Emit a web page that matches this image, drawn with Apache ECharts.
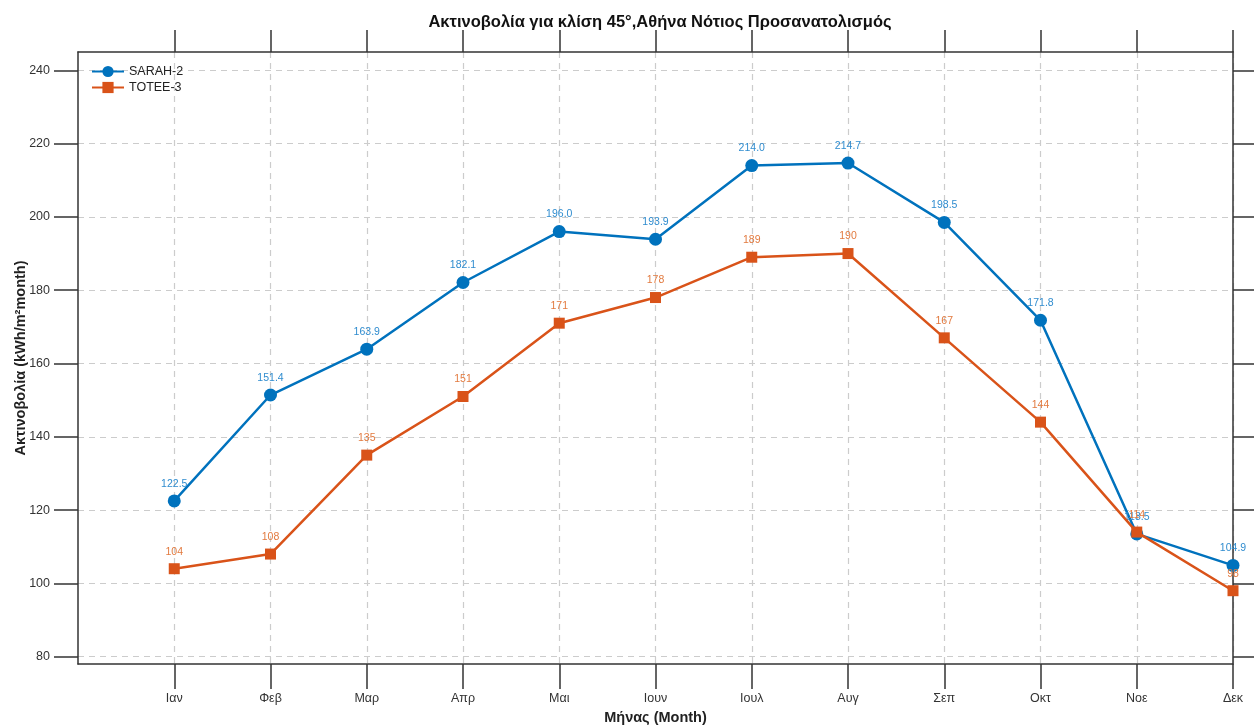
<!DOCTYPE html>
<html><head><meta charset="utf-8">
<script src="https://cdn.jsdelivr.net/npm/echarts@6/dist/echarts.min.js"></script>
<style>html,body{margin:0;padding:0;background:#fff}#c{width:1254px;height:725px}</style>
</head><body><div id="c"></div>
<script>
const months = ['Ιαν','Φεβ','Μαρ','Απρ','Μαι','Ιουν','Ιουλ','Αυγ','Σεπ','Οκτ','Νοε','Δεκ'];
const sarah2 = [122.5, 151.4, 163.9, 182.1, 196.0, 193.9, 214.0, 214.7, 198.5, 171.8, 113.5, 104.9];
const totee3 = [104, 108, 135, 151, 171, 178, 189, 190, 167, 144, 114, 98];
const yTicks = [80, 100, 120, 140, 160, 180, 200, 220, 240];
const xTicks = months.map((m, i) => i + 1);

const FONT = 'Liberation Sans, Arial, sans-serif';
const BLUE = '#0072BD', ORANGE = '#D95319';
const axisLine = {show: true, onZero: false, lineStyle: {color: '#333', width: 1.5}};
const tick = len => ({show: true, inside: false, length: len, lineStyle: {color: '#333', width: 1.5}});
const grid = {show: true, lineStyle: {color: '#cccccc', type: [6, 5], width: 1.2}};

const chart = echarts.init(document.getElementById('c'), null, {renderer: 'canvas'});
chart.setOption({
  animation: false,
  backgroundColor: '#fff',
  textStyle: {fontFamily: FONT},
  title: {
    text: 'Ακτινοβολία για κλίση 45°,Αθήνα Νότιος Προσανατολισμός',
    left: 655, top: 9, textAlign: 'center',
    textStyle: {fontFamily: FONT, fontSize: 16.5, fontWeight: 'bold', color: '#111'}
  },
  legend: {
    left: 86, top: 60, orient: 'vertical', itemWidth: 32, itemHeight: 14, itemGap: 3,
    textStyle: {fontFamily: FONT, fontSize: 12.5, color: '#222'},
    data: ['SARAH-2', 'TOTEE-3']
  },
  grid: {left: 78, right: 21, top: 52, bottom: 61, containLabel: false, outerBoundsMode: 'none'},
  xAxis: [{
    type: 'value', min: 0, max: 12, position: 'bottom',
    name: 'Μήνας (Month)', nameLocation: 'middle', nameGap: 46, nameMoveOverlap: false,
    nameTextStyle: {fontFamily: FONT, fontSize: 14.5, fontWeight: 'bold', color: '#222'},
    axisLine: axisLine,
    axisTick: Object.assign(tick(25), {customValues: xTicks}),
    axisLabel: {customValues: xTicks, formatter: v => months[v - 1] || '', margin: 28, fontFamily: FONT, fontSize: 12.5, color: '#333'},
    splitLine: grid
  }, {
    type: 'value', min: 0, max: 12, position: 'top',
    axisLine: axisLine,
    axisTick: Object.assign(tick(22), {customValues: xTicks}),
    axisLabel: {show: false},
    splitLine: {show: false}
  }],
  yAxis: [{
    type: 'value', min: 78, max: 245, position: 'left',
    name: 'Ακτινοβολία (kWh/m²month)', nameLocation: 'middle', nameGap: 50, nameMoveOverlap: false,
    nameTextStyle: {fontFamily: FONT, fontSize: 14.5, fontWeight: 'bold', color: '#222'},
    axisLine: axisLine,
    axisTick: Object.assign(tick(24), {customValues: yTicks}),
    axisLabel: {customValues: yTicks, margin: 28, fontFamily: FONT, fontSize: 12.5, color: '#333'},
    splitLine: grid
  }, {
    type: 'value', min: 78, max: 245, position: 'right',
    axisLine: axisLine,
    axisTick: Object.assign(tick(24), {customValues: yTicks}),
    axisLabel: {show: false},
    splitLine: {show: false}
  }],
  series: [{
    name: 'SARAH-2', type: 'line',
    data: sarah2.map((v, i) => [i + 1, v]),
    symbol: 'circle', symbolSize: 13,
    lineStyle: {color: BLUE, width: 2.5},
    itemStyle: {color: BLUE},
    label: {show: true, position: 'top', distance: 5, formatter: p => p.value[1].toFixed(1),
      fontFamily: FONT, fontSize: 10.5, color: '#2f8ccf'},
    z: 2
  }, {
    name: 'TOTEE-3', type: 'line',
    data: totee3.map((v, i) => [i + 1, v]),
    symbol: 'rect', symbolSize: 11,
    lineStyle: {color: ORANGE, width: 2.5},
    itemStyle: {color: ORANGE},
    label: {show: true, position: 'top', distance: 6, formatter: p => String(p.value[1]),
      fontFamily: FONT, fontSize: 10.5, color: '#e27a3f'},
    z: 3
  }]
});
</script></body></html>
